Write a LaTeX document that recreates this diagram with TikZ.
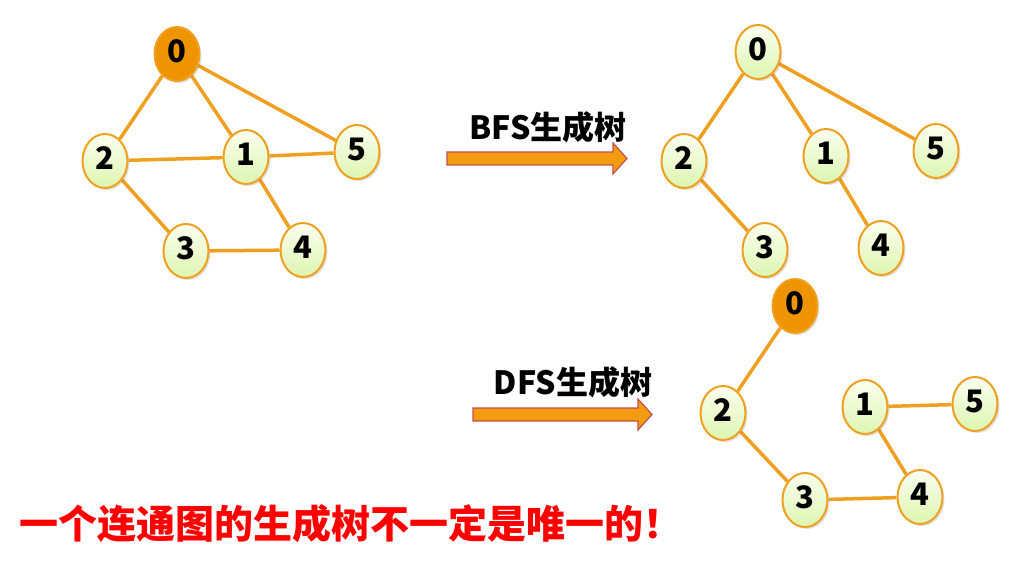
\documentclass[tikz,border=0pt]{standalone}
\usepackage{fontspec}
\setmainfont{Noto Sans CJK SC}
\usetikzlibrary{shapes.geometric,shadows,backgrounds}
\definecolor{edgeor}{HTML}{F0A020}
\definecolor{rootor}{HTML}{EE9400}
\definecolor{arrowfill}{HTML}{F39C12}
\definecolor{arrowline}{HTML}{C0504D}
\definecolor{nodetop}{HTML}{FBFFF0}
\definecolor{nodebot}{HTML}{DDF5B0}
\tikzset{
  vnode/.style={ellipse, draw=edgeor, line width=2pt, inner sep=0pt,
    minimum width=45pt, minimum height=54pt, top color=nodetop, bottom color=nodebot,
    font=\fontsize{31}{31}\selectfont\bfseries,
    drop shadow={opacity=0.25, shadow xshift=2pt, shadow yshift=-2pt}},
  rnode/.style={vnode, fill=rootor, top color=rootor, bottom color=rootor},
  edge/.style={draw=edgeor, line width=3.5pt},
  bigarrow/.style={fill=arrowfill, draw=arrowline, line width=1.2pt},
  title/.style={font=\fontsize{32}{32}\selectfont\bfseries, inner sep=0pt}
}
\newcommand{\lbl}[1]{\raisebox{5pt}{#1}}
\begin{document}
\begin{tikzpicture}[x=1pt,y=-1pt]
\useasboundingbox (0,0) rectangle (1012,569);
% left graph
\node[rnode] (a0) at (177,54) {\lbl{0}};
\node[vnode] (a2) at (105,161) {\lbl{2}};
\node[vnode] (a1) at (246,157) {\lbl{1}};
\node[vnode] (a5) at (357,152) {\lbl{5}};
\node[vnode] (a3) at (186,251) {\lbl{3}};
\node[vnode] (a4) at (303,250) {\lbl{4}};
% BFS graph
\node[vnode] (b0) at (758,52) {\lbl{0}};
\node[vnode] (b2) at (684,161) {\lbl{2}};
\node[vnode] (b1) at (826,156) {\lbl{1}};
\node[vnode] (b5) at (936,151) {\lbl{5}};
\node[vnode] (b3) at (765,250) {\lbl{3}};
\node[vnode] (b4) at (881,248) {\lbl{4}};
% DFS graph
\node[rnode] (d0) at (795,306) {\lbl{0}};
\node[vnode] (d2) at (723,413) {\lbl{2}};
\node[vnode] (d1) at (865,407) {\lbl{1}};
\node[vnode] (d5) at (975,404) {\lbl{5}};
\node[vnode] (d3) at (805,500) {\lbl{3}};
\node[vnode] (d4) at (920,497) {\lbl{4}};
\begin{pgfonlayer}{background}
\path[edge] (a0) -- (a2) (a0) -- (a1) (a0) -- (a5) (a2) -- (a1) (a1) -- (a5)
  (a2) -- (a3) (a1) -- (a4) (a3) -- (a4);
\path[edge] (b0) -- (b2) (b0) -- (b1) (b0) -- (b5) (b2) -- (b3) (b1) -- (b4);
\path[edge] (d0) -- (d2) (d2) -- (d3) (d3) -- (d4) (d4) -- (d1) (d1) -- (d5);
\end{pgfonlayer}
% arrows
\node[title] (tb) at (548,127) {BFS生成树};
\draw[bigarrow] (447,152) -- (613,152) -- (613,143) -- (627,158.5) -- (613,174) -- (613,165) -- (447,165) -- cycle;
\node[title] (td) at (573,382) {DFS生成树};
\draw[bigarrow] (473,408) -- (638,408) -- (638,399) -- (652,414.5) -- (638,430) -- (638,421) -- (473,421) -- cycle;
% bottom text
\node[anchor=west, inner sep=0pt, text=red, font=\fontsize{39}{39}\selectfont\bfseries] (msg) at (19,524) {一个连通图的生成树不一定是唯一的！};
\end{tikzpicture}
\end{document}
